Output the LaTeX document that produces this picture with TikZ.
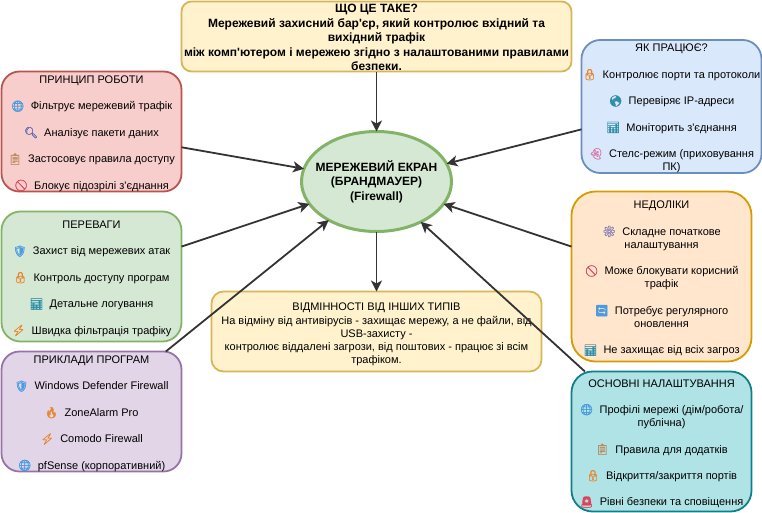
\documentclass[tikz,border=0pt]{standalone}
\usepackage{xcolor}
\usepackage{fontspec}
\setmainfont{Liberation Sans}[Ligatures=TeXOff]
\newfontfamily\emojifont{Noto Emoji}[FakeBold=1.2]
\usetikzlibrary{shapes.geometric, arrows.meta, positioning}
\definecolor{arrowgray}{HTML}{333333}
\definecolor{greenline}{HTML}{82B366}
\definecolor{greenfill}{HTML}{D5E8D4}
\definecolor{yellowline}{HTML}{D6B656}
\definecolor{yellowfill}{HTML}{FFF2CC}
\definecolor{redline}{HTML}{B85450}
\definecolor{redfill}{HTML}{F8CECC}
\definecolor{violetline}{HTML}{9673A6}
\definecolor{violetfill}{HTML}{E1D5E7}
\definecolor{blueline}{HTML}{6C8EBF}
\definecolor{bluefill}{HTML}{DAE8FC}
\definecolor{orangeline}{HTML}{D79B00}
\definecolor{orangefill}{HTML}{FFE6CC}
\definecolor{tealline}{HTML}{0E8088}
\definecolor{tealfill}{HTML}{B0E3E6}
\definecolor{icoblue}{HTML}{4A9BE0}
\definecolor{icoorange}{HTML}{E8872E}
\definecolor{icored}{HTML}{E0405A}
\definecolor{icotan}{HTML}{B98A5E}
\definecolor{icoviolet}{HTML}{5B6BB5}
\definecolor{icoteal}{HTML}{2F8FA8}
\definecolor{icopink}{HTML}{D977A8}
\definecolor{icogray}{HTML}{8C86B8}
\newcommand{\ico}[2]{\smash{\textcolor{#1}{\fontsize{11}{13}\emojifont #2}}\ \ }
\newcommand{\lift}[1]{\rule{0pt}{#1pt}}
\tikzstyle{hub} = [ellipse, minimum width=150pt, minimum height=100pt, inner ysep=0pt, inner xsep=-12pt, outer sep=0pt, align=center, line width=3pt, draw=greenline, fill=greenfill, font=\fontsize{12}{14.5}\selectfont\bfseries]
\tikzstyle{panel} = [rectangle, minimum width=180pt, inner sep=0pt, outer sep=0pt, align=center, line width=1.8pt, font=\fontsize{11}{13.2}\selectfont]
\tikzstyle{arrow} = [line width=1.8pt,-{Stealth[length=11pt,width=11pt,inset=3pt]},draw=arrowgray]
\begin{document}
\begin{tikzpicture}[x=1pt,y=-1pt]
    \useasboundingbox (0,0) rectangle (762,512);
    % Components
    \node[hub] (firewall) at (376.5,181.5) {\lift{11}МЕРЕЖЕВИЙ ЕКРАН\\(БРАНДМАУЕР)\\(Firewall)};

    \node[panel, above=60pt of firewall, minimum width=390pt, minimum height=70pt, rounded corners=10pt, draw=yellowline, fill=yellowfill, font=\fontsize{12}{14.5}\selectfont\bfseries] (what) {\lift{11}ЩО ЦЕ ТАКЕ?\\
        Мережевий захисний бар'єр, який контролює вхідний та\\
        вихідний трафік\\
        між комп'ютером і мережею згідно з налаштованими правилами\\
        безпеки.};

    \node[panel, left=120pt of firewall, yshift=50pt, minimum height=120pt, rounded corners=18pt, draw=redline, fill=redfill] (principle) {\lift{12}ПРИНЦИП РОБОТИ\\[13.2pt]
        \ico{icoblue}{🌐}Фільтрує мережевий трафік\\[13.2pt]
        \ico{icoviolet}{🔍}Аналізує пакети даних\\[13.2pt]
        \ico{icotan}{📋}Застосовує правила доступу\\[13.2pt]
        \ico{icored}{🚫}Блокує підозрілі з'єднання};

    \node[panel, left=120pt of firewall, yshift=-95pt, minimum height=130pt, rounded corners=19pt, draw=greenline, fill=greenfill] (benefits) {\lift{12}ПЕРЕВАГИ\\[13.2pt]
        \ico{icoblue}{🛡}Захист від мережевих атак\\[13.2pt]
        \ico{icoorange}{🔒}Контроль доступу програм\\[13.2pt]
        \ico{icoteal}{📊}Детальне логування\\[13.2pt]
        \ico{icoorange}{⚡}Швидка фільтрація трафіку};

    \node[panel, left=120pt of firewall, yshift=-230pt, minimum height=120pt, rounded corners=18pt, draw=violetline, fill=violetfill] (examples) {\lift{12}ПРИКЛАДИ ПРОГРАМ\\[13.2pt]
        \ico{icoblue}{🛡}Windows Defender Firewall\\[13.2pt]
        \ico{icoorange}{🔥}ZoneAlarm Pro\\[13.2pt]
        \ico{icoorange}{⚡}Comodo Firewall\\[13.2pt]
        \ico{icoblue}{🌐}pfSense (корпоративний)};

    \node[panel, right=130pt of firewall, yshift=75pt, minimum height=130pt, rounded corners=19pt, draw=blueline, fill=bluefill] (how) {\lift{12}ЯК ПРАЦЮЄ?\\[13.2pt]
        \ico{icoorange}{🔒}Контролює порти та протоколи\\[13.2pt]
        \ico{icoteal}{🌎}Перевіряє IP-адреси\\[13.2pt]
        \ico{icoteal}{📊}Моніторить з'єднання\\[13.2pt]
        \ico{icopink}{👻}Стелс-режим (приховування\\
        ПК)};

    \node[panel, right=120pt of firewall, yshift=-95pt, minimum height=170pt, rounded corners=24pt, draw=orangeline, fill=orangefill] (drawbacks) {\lift{12}НЕДОЛІКИ\\[13.2pt]
        \ico{icogray}{⚙}Складне початкове\\
        налаштування\\[13.2pt]
        \ico{icored}{🚫}Може блокувати корисний\\
        трафік\\[13.2pt]
        \ico{icoblue}{🔄}Потребує регулярного\\
        оновлення\\[13.2pt]
        \ico{icoteal}{📊}Не захищає від всіх загроз};

    \node[panel, right=120pt of firewall, yshift=-260pt, minimum height=140pt, rounded corners=21pt, draw=tealline, fill=tealfill] (settings) {\lift{12}ОСНОВНІ НАЛАШТУВАННЯ\\[13.2pt]
        \ico{icoblue}{🌐}Профілі мережі (дім/робота/\\
        публічна)\\[13.2pt]
        \ico{icotan}{📋}Правила для додатків\\[13.2pt]
        \ico{icoorange}{🔒}Відкриття/закриття портів\\[13.2pt]
        \ico{icored}{🚨}Рівні безпеки та сповіщення};

    \node[panel, below=60pt of firewall, minimum width=330pt, minimum height=80pt, rounded corners=12pt, draw=yellowline, fill=yellowfill] (differences) {\lift{14}ВІДМІННОСТІ ВІД ІНШИХ ТИПІВ\\
        На відміну від антивірусів - захищає мережу, а не файли, від\\
        USB-захисту -\\
        контролює віддалені загрози, від поштових - працює зі всім\\
        трафіком.};

    % Connections
    \draw[arrow] (what) -- (firewall);
    \draw[arrow] (principle) -- (firewall);
    \draw[arrow] (how) -- (firewall);
    \draw[arrow] (benefits) -- (firewall);
    \draw[arrow] (examples) -- (firewall);
    \draw[arrow] (drawbacks) -- (firewall);
    \draw[arrow] (settings) -- (firewall);
    \draw[arrow] (firewall) -- (differences);
\end{tikzpicture}
\end{document}
